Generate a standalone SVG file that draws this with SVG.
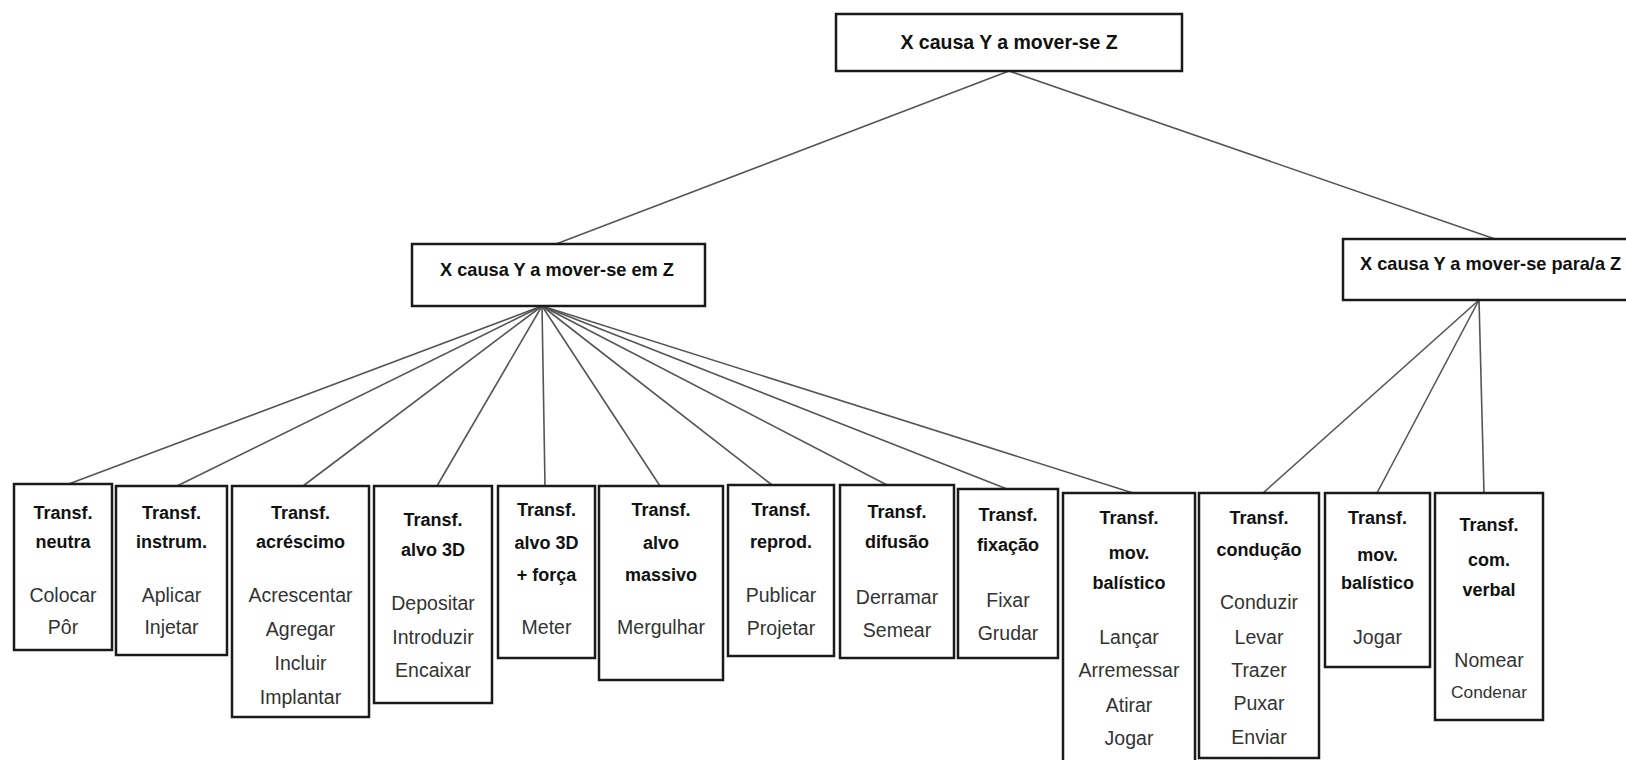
<svg xmlns="http://www.w3.org/2000/svg" width="1626" height="760" viewBox="0 0 1626 760">
<style>
.box{fill:#fff;stroke:#1a1a1a;stroke-width:2.5}
.b{font-family:"Liberation Sans",Arial,sans-serif;font-weight:bold;font-size:18px;fill:#111;text-anchor:middle}
.r{font-family:"Liberation Sans",Arial,sans-serif;font-size:19.5px;fill:#333;text-anchor:middle}
.t{font-family:"Liberation Sans",Arial,sans-serif;font-weight:bold;font-size:18.2px;fill:#111}
.c line{stroke:#555;stroke-width:1.6}
</style>
<rect width="1626" height="760" fill="#fff"/>
<g class="c" id="connectors">
<line x1="1009" y1="71" x2="556" y2="244"/>
<line x1="1009" y1="71" x2="1495" y2="239"/>
<line x1="542" y1="306" x2="66" y2="485"/>
<line x1="542" y1="306" x2="177" y2="486"/>
<line x1="542" y1="306" x2="303" y2="486"/>
<line x1="542" y1="306" x2="437" y2="486"/>
<line x1="542" y1="306" x2="545" y2="486"/>
<line x1="542" y1="306" x2="660" y2="486"/>
<line x1="542" y1="306" x2="772" y2="485"/>
<line x1="542" y1="306" x2="887" y2="485"/>
<line x1="542" y1="306" x2="1007" y2="489"/>
<line x1="542" y1="306" x2="1133" y2="493"/>
<line x1="1479" y1="300" x2="1263" y2="493"/>
<line x1="1479" y1="300" x2="1377" y2="493"/>
<line x1="1479" y1="300" x2="1484" y2="493"/>
</g>
<g id="root">
<rect class="box" x="836" y="14" width="346" height="57"/>
<text class="b" x="1009" y="49" style="font-size:19.5px">X causa Y a mover-se Z</text>
</g>
<g id="mid-em">
<rect class="box" x="412" y="244" width="293" height="62"/>
<text class="t" x="440" y="276">X causa Y a mover-se em Z</text>
</g>
<g id="mid-para">
<rect class="box" x="1343" y="239" width="300" height="61"/>
<text class="t" x="1360" y="270">X causa Y a mover-se para/a Z</text>
</g>
<g id="neutra">
<rect class="box" x="14" y="484" width="98" height="166"/>
<text class="b" x="63" y="519">Transf.</text>
<text class="b" x="63" y="548">neutra</text>
<text class="r" x="63" y="602">Colocar</text>
<text class="r" x="63" y="634">Pôr</text>
</g>
<g id="instrum">
<rect class="box" x="116" y="486" width="111" height="169"/>
<text class="b" x="171.5" y="519">Transf.</text>
<text class="b" x="171.5" y="548">instrum.</text>
<text class="r" x="171.5" y="602">Aplicar</text>
<text class="r" x="171.5" y="634">Injetar</text>
</g>
<g id="acrescimo">
<rect class="box" x="232" y="486" width="137" height="231"/>
<text class="b" x="300.5" y="519">Transf.</text>
<text class="b" x="300.5" y="548">acréscimo</text>
<text class="r" x="300.5" y="602">Acrescentar</text>
<text class="r" x="300.5" y="636">Agregar</text>
<text class="r" x="300.5" y="670">Incluir</text>
<text class="r" x="300.5" y="704">Implantar</text>
</g>
<g id="alvo3d">
<rect class="box" x="374" y="486" width="118" height="217"/>
<text class="b" x="433" y="526">Transf.</text>
<text class="b" x="433" y="556">alvo 3D</text>
<text class="r" x="433" y="610">Depositar</text>
<text class="r" x="433" y="644">Introduzir</text>
<text class="r" x="433" y="677">Encaixar</text>
</g>
<g id="alvo3d-forca">
<rect class="box" x="498" y="486" width="97" height="172"/>
<text class="b" x="546.5" y="516">Transf.</text>
<text class="b" x="546.5" y="549">alvo 3D</text>
<text class="b" x="546.5" y="581">+ força</text>
<text class="r" x="546.5" y="634">Meter</text>
</g>
<g id="massivo">
<rect class="box" x="599" y="486" width="124" height="194"/>
<text class="b" x="661" y="516">Transf.</text>
<text class="b" x="661" y="549">alvo</text>
<text class="b" x="661" y="581">massivo</text>
<text class="r" x="661" y="634">Mergulhar</text>
</g>
<g id="reprod">
<rect class="box" x="728" y="485" width="106" height="171"/>
<text class="b" x="781" y="516">Transf.</text>
<text class="b" x="781" y="548">reprod.</text>
<text class="r" x="781" y="602">Publicar</text>
<text class="r" x="781" y="635">Projetar</text>
</g>
<g id="difusao">
<rect class="box" x="840" y="485" width="114" height="173"/>
<text class="b" x="897" y="518">Transf.</text>
<text class="b" x="897" y="548">difusão</text>
<text class="r" x="897" y="604">Derramar</text>
<text class="r" x="897" y="637">Semear</text>
</g>
<g id="fixacao">
<rect class="box" x="958" y="489" width="100" height="169"/>
<text class="b" x="1008" y="521">Transf.</text>
<text class="b" x="1008" y="551">fixação</text>
<text class="r" x="1008" y="607">Fixar</text>
<text class="r" x="1008" y="640">Grudar</text>
</g>
<g id="balistico-em">
<rect class="box" x="1063" y="493" width="132" height="280"/>
<text class="b" x="1129" y="524">Transf.</text>
<text class="b" x="1129" y="559">mov.</text>
<text class="b" x="1129" y="589">balístico</text>
<text class="r" x="1129" y="644">Lançar</text>
<text class="r" x="1129" y="677">Arremessar</text>
<text class="r" x="1129" y="712">Atirar</text>
<text class="r" x="1129" y="745">Jogar</text>
</g>
<g id="conducao">
<rect class="box" x="1199" y="493" width="120" height="265"/>
<text class="b" x="1259" y="524">Transf.</text>
<text class="b" x="1259" y="556">condução</text>
<text class="r" x="1259" y="609">Conduzir</text>
<text class="r" x="1259" y="644">Levar</text>
<text class="r" x="1259" y="677">Trazer</text>
<text class="r" x="1259" y="710">Puxar</text>
<text class="r" x="1259" y="744">Enviar</text>
</g>
<g id="balistico-para">
<rect class="box" x="1325" y="493" width="105" height="174"/>
<text class="b" x="1377.5" y="524">Transf.</text>
<text class="b" x="1377.5" y="561">mov.</text>
<text class="b" x="1377.5" y="589">balístico</text>
<text class="r" x="1377.5" y="644">Jogar</text>
</g>
<g id="verbal">
<rect class="box" x="1435" y="493" width="108" height="227"/>
<text class="b" x="1489" y="531">Transf.</text>
<text class="b" x="1489" y="566">com.</text>
<text class="b" x="1489" y="596">verbal</text>
<text class="r" x="1489" y="667">Nomear</text>
<text class="r" x="1489" y="698" style="font-size:17.3px">Condenar</text>
</g>
</svg>
